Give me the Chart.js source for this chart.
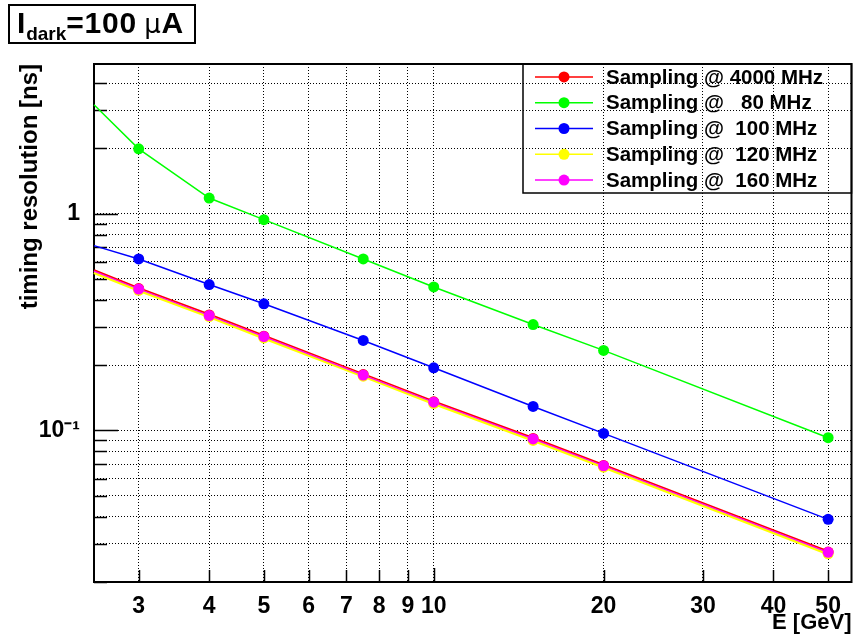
<!DOCTYPE html>
<html>
<head>
<meta charset="utf-8">
<script src="https://cdn.jsdelivr.net/npm/chart.js@4.4.1/dist/chart.umd.min.js"></script>
<style>
html, body { margin: 0; padding: 0; background: #fff; }
#wrap { position: relative; width: 857px; height: 644px; }
#title {
  position: absolute; left: 8px; top: 4px; width: 177px; height: 36px;
  border: 2px solid #000; box-sizing: content-box;
  font: bold 30px 'Liberation Sans', Arial, sans-serif;
  line-height: 33px; padding-left: 7px; white-space: nowrap; letter-spacing: 0.8px;
}
#title sub { font-size: 19px; vertical-align: -7px; line-height: 0; letter-spacing: 0; }
#title .mu { font-family: 'DejaVu Sans', sans-serif; font-weight: normal; font-size: 26px; margin-left: -2px; }
</style>
</head>
<body>
<div id="wrap">
  <canvas id="c" width="857" height="644"></canvas>
  <div id="title">I<sub>dark</sub>=100 <span class="mu">µ</span>A</div>
</div>
<script>
// beam energies [GeV] of the measured points
const energies = [3, 4, 5, 7.5, 10, 15, 20, 50];
// timing resolution [ns] per sampling frequency
const res4000 = [0.451, 0.341, 0.272, 0.181, 0.1356, 0.0918, 0.069, 0.0275];
const res80   = [1.99, 1.18, 0.938, 0.618, 0.459, 0.308, 0.234, 0.0926];
const res100  = [0.618, 0.471, 0.384, 0.260, 0.1946, 0.129, 0.0969, 0.0389];
const res120  = [0.443, 0.335, 0.267, 0.178, 0.1330, 0.0900, 0.0677, 0.0270];
const res160  = [0.449, 0.339, 0.271, 0.180, 0.1350, 0.0914, 0.0687, 0.0274];
// where each curve enters the frame at the left edge (E = 2.5)
const curveStartE = 2.5;
const curveStart = [0.546, 3.18, 0.712, 0.535, 0.543];

const seriesLabels = ['Sampling @ 4000 MHz', 'Sampling @   80 MHz', 'Sampling @  100 MHz', 'Sampling @  120 MHz', 'Sampling @  160 MHz'];
const seriesColors = ['#ff0000', '#00ff00', '#0000ff', '#ffff00', '#ff00ff'];
const seriesValues = [res4000, res80, res100, res120, res160];

const xTicks = [3, 4, 5, 6, 7, 8, 9, 10, 20, 30, 40, 50];
const yTicks = [0.02, 0.03, 0.04, 0.05, 0.06, 0.07, 0.08, 0.09,
                0.1, 0.2, 0.3, 0.4, 0.5, 0.6, 0.7, 0.8, 0.9, 1, 2, 3, 4];
const yLabels = { 1: '1', 0.1: '10\u207B\u00B9' };

const FONT = "'Liberation Sans', Arial, sans-serif";
const drawOrder = [2, 4, 3, 1, 0]; // magenta on top, like ROOT's last-drawn graph
const widths = [3, 1.5, 1.5, 3, 1.2];

const datasets = seriesValues.map((vals, i) => ({
  label: seriesLabels[i],
  data: [{ x: curveStartE, y: curveStart[i] }].concat(energies.map((e, j) => ({ x: e, y: vals[j] }))),
  borderColor: seriesColors[i],
  backgroundColor: seriesColors[i],
  borderWidth: widths[i],
  pointRadius: ctx => ctx.dataIndex === 0 ? 0 : 5.5,
  pointBorderWidth: 0,
  tension: 0,
  order: drawOrder[i],
  clip: false
}));

const frameAndTicks = {
  id: 'frameAndTicks',
  beforeDatasetsDraw(chart) {
    const ctx = chart.ctx, a = chart.chartArea;
    const xs = chart.scales.x, ys = chart.scales.y;
    ctx.save();
    ctx.strokeStyle = '#000';
    ctx.lineWidth = 1.5;
    ctx.beginPath();
    xs.ticks.forEach(t => {
      const px = Math.round(xs.getPixelForValue(t.value)) + 0.5;
      ctx.moveTo(px, a.bottom); ctx.lineTo(px, a.bottom - (t.value === 10 ? 14 : 12));
    });
    ys.ticks.forEach(t => {
      const py = Math.round(ys.getPixelForValue(t.value)) + 0.5;
      ctx.moveTo(a.left, py); ctx.lineTo(a.left + (yLabels[t.value] ? 24 : 13), py);
    });
    ctx.stroke();
    ctx.lineWidth = 2;
    ctx.strokeRect(a.left, a.top, a.right - a.left, a.bottom - a.top);
    ctx.restore();
  }
};

const boxLegend = {
  id: 'boxLegend',
  afterDatasetsDraw(chart) {
    const ctx = chart.ctx, a = chart.chartArea;
    const left = 523, top = a.top, right = a.right, bottom = 193;
    ctx.save();
    ctx.strokeStyle = '#000';
    ctx.lineWidth = 1.5;
    ctx.strokeRect(left, top, right - left, bottom - top);
    const rowH = (bottom - top) / seriesLabels.length;
    ctx.font = 'bold 20.5px ' + FONT;
    ctx.textBaseline = 'middle';
    seriesLabels.forEach((lab, i) => {
      const cy = top + (i + 0.5) * rowH;
      ctx.strokeStyle = seriesColors[i];
      ctx.lineWidth = 1.5;
      ctx.beginPath(); ctx.moveTo(535, cy); ctx.lineTo(593, cy); ctx.stroke();
      ctx.fillStyle = seriesColors[i];
      ctx.beginPath(); ctx.arc(564, cy, 5.5, 0, Math.PI * 2); ctx.fill();
      ctx.fillStyle = '#000';
      ctx.fillText(lab, 606, cy + 1);
    });
    ctx.restore();
  }
};

const grid = { color: '#000', lineWidth: 1, drawTicks: false };
const border = { display: false, dash: [1, 2] };

new Chart('c', {
  type: 'line',
  data: { datasets: datasets },
  plugins: [frameAndTicks, boxLegend],
  options: {
    responsive: false,
    animation: false,
    events: [],
    layout: { padding: { top: 64, right: 1, left: 0, bottom: 0 } },
    plugins: { legend: { display: false }, tooltip: { enabled: false } },
    scales: {
      x: {
        type: 'logarithmic',
        min: 2.5, max: 55,
        afterBuildTicks: s => { s.ticks = xTicks.map(v => ({ value: v })); },
        afterFit: s => { s.height = 62; },
        grid: grid,
        border: border,
        ticks: {
          autoSkip: false, maxRotation: 0, padding: 11, color: '#000',
          font: { family: FONT, size: 23, weight: 'bold' },
          callback: v => String(v)
        },
        title: {
          display: true, text: 'E [GeV]', align: 'end', color: '#000',
          font: { family: FONT, size: 22, weight: 'bold' },
          padding: { top: 0, bottom: 8 }
        }
      },
      y: {
        type: 'logarithmic',
        min: 0.02, max: 4.9,
        afterBuildTicks: s => { s.ticks = yTicks.map(v => ({ value: v })); },
        afterFit: s => { s.width = 94; },
        grid: grid,
        border: border,
        ticks: {
          autoSkip: false, padding: 14, color: '#000',
          font: { family: FONT, size: 23, weight: 'bold' },
          callback: v => yLabels[v] || ''
        },
        title: {
          display: true, text: 'timing resolution [ns]', align: 'end', color: '#000',
          font: { family: FONT, size: 24, weight: 'bold' },
          padding: { top: 16, bottom: 0 }
        }
      }
    }
  }
});
</script>
</body>
</html>
